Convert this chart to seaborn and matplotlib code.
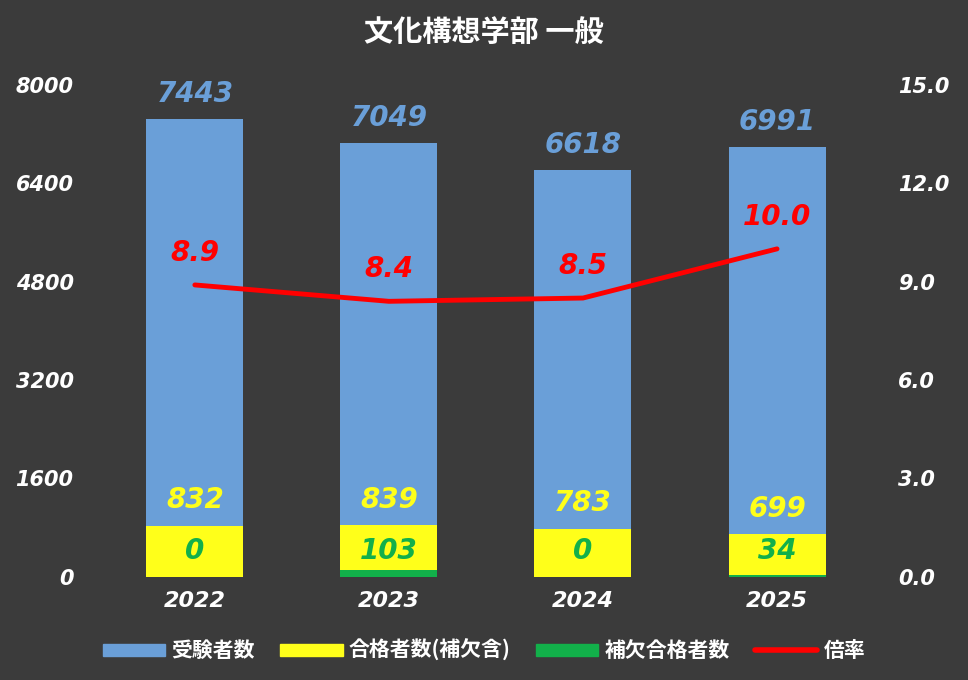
import matplotlib
matplotlib.use("Agg")
import matplotlib.pyplot as plt
import seaborn as sns
import pandas as pd
from matplotlib.patches import Patch
from matplotlib.lines import Line2D

years = ["2022", "2023", "2024", "2025"]
applicants = [7443, 7049, 6618, 6991]
passers = [832, 839, 783, 699]
supplementary = [0, 103, 0, 34]
ratio = [8.9, 8.4, 8.5, 10.0]

BG = "#3b3b3b"
BLUE = "#6a9fd8"
YELLOW = "#ffff1a"
GREEN = "#12b04a"
RED = "#ff0000"
NUMFONT = ["DejaVu Sans"]

sns.set_style("dark")
plt.rcParams["font.family"] = ["Noto Sans CJK JP", "DejaVu Sans"]
plt.rcParams["font.weight"] = "bold"

df = pd.DataFrame({"year": years, "applicants": applicants,
                   "passers": passers, "supp": supplementary, "ratio": ratio})

fig = plt.figure(figsize=(9.68, 6.8), dpi=100, facecolor=BG)
ax = fig.add_axes([0.081, 0.152, 0.842, 0.723], facecolor=BG)
for col, c, z in [("applicants", BLUE, 2), ("passers", YELLOW, 3), ("supp", GREEN, 4)]:
    sns.barplot(data=df, x="year", y=col, color=c, width=0.5, saturation=1,
                linewidth=0, ax=ax, zorder=z)
ax.set_ylim(0, 8000)
ax.set_yticks(range(0, 8001, 1600))
ax.set_xlabel("")
ax.set_ylabel("")
ax.grid(False)
for s in ax.spines.values():
    s.set_visible(False)
ax.tick_params(colors="white", labelsize=15, length=0)
ax.tick_params(axis="x", labelsize=16, pad=10)
for lbl in ax.get_yticklabels() + ax.get_xticklabels():
    lbl.set_fontstyle("italic")
    lbl.set_fontweight("bold")
    lbl.set_family(NUMFONT)

txt = dict(ha="center", fontsize=20, fontweight="bold", fontstyle="italic",
           family=NUMFONT)
for i in range(4):
    ax.text(i, applicants[i] + 180, f"{applicants[i]}", color=BLUE, va="bottom", **txt)
    ax.text(i, passers[i] + 180, f"{passers[i]}", color=YELLOW, va="bottom", **txt)
    ax.text(i, 420, f"{supplementary[i]}", color=GREEN, va="center", **txt)

ax2 = ax.twinx()
sns.lineplot(x=list(range(4)), y=ratio, color=RED, lw=3.5, ax=ax2, zorder=5)
ax2.set_ylim(0, 15)
ax2.set_yticks([0, 3, 6, 9, 12, 15])
ax2.set_yticklabels([f"{v:.1f}" for v in [0, 3, 6, 9, 12, 15]])
ax2.grid(False)
for s in ax2.spines.values():
    s.set_visible(False)
ax2.tick_params(colors="white", labelsize=15, length=0)
for lbl in ax2.get_yticklabels():
    lbl.set_fontstyle("italic")
    lbl.set_fontweight("bold")
    lbl.set_family(NUMFONT)
for i in range(4):
    ax2.text(i, ratio[i] + 0.55, f"{ratio[i]:.1f}", color=RED, va="bottom", **txt)
ax.set_xlim(-0.6, 3.6)

fig.text(0.5, 0.94, "文化構想学部 一般", color="white", ha="center",
         fontsize=21, fontweight="bold")

handles = [Patch(color=BLUE, label="受験者数"),
           Patch(color=YELLOW, label="合格者数(補欠含)"),
           Patch(color=GREEN, label="補欠合格者数"),
           Line2D([], [], color=RED, lw=4, label="倍率")]
fig.legend(handles=handles, loc="lower center", ncol=4,
           bbox_to_anchor=(0.5, 0.0), frameon=False, fontsize=15,
           labelcolor="white", handlelength=3, handleheight=0.5,
           columnspacing=1.2, handletextpad=0.3)

fig.savefig("out.png", facecolor=BG)
